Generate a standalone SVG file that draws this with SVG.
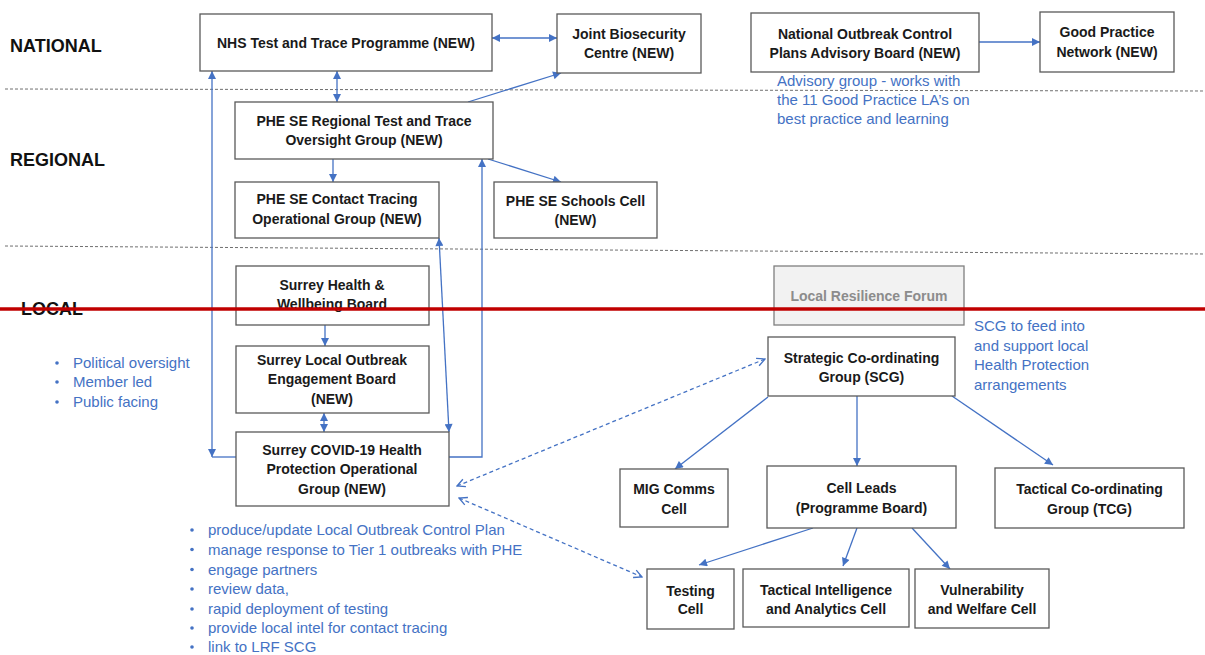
<svg xmlns="http://www.w3.org/2000/svg" width="1205" height="655" viewBox="0 0 1205 655">
<style>
.bx{fill:#ffffff;stroke:#595959;stroke-width:1.3}
.lrf{fill:#f2f2f2;stroke:#7f7f7f;stroke-width:1.3}
.t{font-family:"Liberation Sans",Arial,sans-serif;font-size:14px;font-weight:bold;fill:#1a1a1a;text-anchor:middle}
.tg{font-family:"Liberation Sans",Arial,sans-serif;font-size:14px;font-weight:bold;fill:#8c8c8c;text-anchor:middle}
.h{font-family:"Liberation Sans",Arial,sans-serif;font-size:18px;font-weight:bold;fill:#111111}
.b{font-family:"Liberation Sans",Arial,sans-serif;font-size:15px;fill:#4472C4}
.c{fill:none;stroke:#4472C4;stroke-width:1.3}
.d{fill:none;stroke:#4472C4;stroke-width:1.3;stroke-dasharray:4,3}
.sep{fill:none;stroke:#6f6f6f;stroke-width:1;stroke-dasharray:3,2}
</style>
<defs>
<marker id="a" viewBox="0 0 10 10" refX="10" refY="5" markerWidth="9" markerHeight="8" markerUnits="userSpaceOnUse" orient="auto-start-reverse"><path d="M0,0 L10,5 L0,10 z" fill="#4472C4"/></marker>
<marker id="o" viewBox="0 0 10 10" refX="9" refY="5" markerWidth="10" markerHeight="10" markerUnits="userSpaceOnUse" orient="auto-start-reverse"><path d="M1,1 L9,5 L1,9" fill="none" stroke="#4472C4" stroke-width="1.3"/></marker>
</defs>
<rect width="1205" height="655" fill="#ffffff"/>

<g id="separators">
<line class="sep" x1="5" y1="89" x2="1205" y2="91"/>
<line class="sep" x1="5" y1="246" x2="1205" y2="254"/>
</g>

<g id="levels">
<text class="h" x="10" y="51.5">NATIONAL</text>
<text class="h" x="10" y="165.5">REGIONAL</text>
<text class="h" x="21" y="315">LOCAL</text>
</g>

<g id="connectors">
<line class="c" x1="492" y1="38" x2="557" y2="38" marker-start="url(#a)" marker-end="url(#a)"/>
<line class="c" x1="337" y1="71" x2="337" y2="102" marker-start="url(#a)" marker-end="url(#a)"/>
<line class="c" x1="468" y1="102" x2="561" y2="73" marker-end="url(#a)"/>
<line class="c" x1="333" y1="159" x2="333" y2="182" marker-end="url(#a)"/>
<line class="c" x1="488" y1="159" x2="561" y2="182" marker-end="url(#a)"/>
<line class="c" x1="212" y1="457" x2="212" y2="71" marker-start="url(#a)" marker-end="url(#a)"/>
<line class="c" x1="212" y1="457" x2="236" y2="457"/>
<path class="c" d="M449,457 H482 V159" marker-end="url(#a)"/>
<line class="c" x1="439" y1="238" x2="449" y2="432" marker-start="url(#a)" marker-end="url(#a)"/>
<line class="c" x1="325" y1="325" x2="325" y2="346" marker-end="url(#a)"/>
<line class="c" x1="324" y1="413" x2="324" y2="432" marker-start="url(#a)" marker-end="url(#a)"/>
<line class="c" x1="979" y1="42" x2="1040" y2="42" marker-end="url(#a)"/>
<line class="c" x1="768" y1="397" x2="675" y2="469" marker-end="url(#a)"/>
<line class="c" x1="857" y1="396" x2="857" y2="466" marker-end="url(#a)"/>
<line class="c" x1="952" y1="396" x2="1053" y2="465" marker-end="url(#a)"/>
<line class="c" x1="813" y1="528" x2="699" y2="565" marker-end="url(#a)"/>
<line class="c" x1="857" y1="528" x2="843" y2="566" marker-end="url(#a)"/>
<line class="c" x1="912" y1="528" x2="950" y2="569" marker-end="url(#a)"/>
<line class="d" x1="457" y1="486" x2="765" y2="359" marker-start="url(#o)" marker-end="url(#o)"/>
<line class="d" x1="459" y1="498" x2="642" y2="577" marker-start="url(#o)" marker-end="url(#o)"/>
</g>

<g id="nhs"><rect class="bx" x="200" y="14" width="292" height="57"/><text class="t" x="346" y="48">NHS Test and Trace Programme (NEW)</text></g>
<g id="jbc"><rect class="bx" x="557" y="14" width="144" height="59"/><text class="t" x="629" y="39">Joint Biosecurity</text><text class="t" x="629" y="58">Centre (NEW)</text></g>
<g id="nocp"><rect class="bx" x="751" y="13" width="228" height="59"/><text class="t" x="865" y="38.5">National Outbreak Control</text><text class="t" x="865" y="57.5">Plans Advisory Board (NEW)</text></g>
<g id="gpn"><rect class="bx" x="1040" y="12" width="134" height="60"/><text class="t" x="1107" y="37">Good Practice</text><text class="t" x="1107" y="56.5">Network (NEW)</text></g>
<g id="advisory-note"><text class="b" x="777" y="86">Advisory group - works with</text><text class="b" x="777" y="105">the 11 Good Practice LA’s on</text><text class="b" x="777" y="124">best practice and learning</text></g>

<g id="regional"><rect class="bx" x="235" y="102" width="258" height="57"/><text class="t" x="364" y="125.7">PHE SE Regional Test and Trace</text><text class="t" x="364" y="145">Oversight Group (NEW)</text></g>
<g id="contact"><rect class="bx" x="235" y="182" width="204" height="56"/><text class="t" x="337" y="204">PHE SE Contact Tracing</text><text class="t" x="337" y="223.7">Operational Group (NEW)</text></g>
<g id="schools"><rect class="bx" x="494" y="182" width="163" height="56"/><text class="t" x="575.5" y="205.5">PHE SE Schools Cell</text><text class="t" x="575.5" y="224.5">(NEW)</text></g>

<g id="shwb"><rect class="bx" x="236" y="266" width="193" height="59"/><text class="t" x="332" y="290.3">Surrey Health &amp;</text><text class="t" x="332" y="309.3">Wellbeing Board</text></g>
<g id="sloeb"><rect class="bx" x="236" y="346" width="193" height="67"/><text class="t" x="332" y="365">Surrey Local Outbreak</text><text class="t" x="332" y="384.3">Engagement Board</text><text class="t" x="332" y="404">(NEW)</text></g>
<g id="covid"><rect class="bx" x="236" y="432" width="213" height="74"/><text class="t" x="342" y="455">Surrey COVID-19 Health</text><text class="t" x="342" y="474.3">Protection Operational</text><text class="t" x="342" y="493.7">Group (NEW)</text></g>

<g id="lrf"><rect class="lrf" x="774" y="266" width="190" height="59"/><text class="tg" x="869" y="301">Local Resilience Forum</text></g>
<g id="scg"><rect class="bx" x="768" y="337" width="187" height="59"/><text class="t" x="861.5" y="363">Strategic Co-ordinating</text><text class="t" x="861.5" y="382.3">Group (SCG)</text></g>
<g id="scg-note"><text class="b" x="974" y="331">SCG to feed into</text><text class="b" x="974" y="351">and support local</text><text class="b" x="974" y="370">Health Protection</text><text class="b" x="974" y="390">arrangements</text></g>
<g id="mig"><rect class="bx" x="620" y="469" width="108" height="58"/><text class="t" x="674" y="494.3">MIG Comms</text><text class="t" x="674" y="513.7">Cell</text></g>
<g id="cellleads"><rect class="bx" x="767" y="466" width="189" height="62"/><text class="t" x="861.5" y="492.7">Cell Leads</text><text class="t" x="861.5" y="512.7">(Programme Board)</text></g>
<g id="tcg"><rect class="bx" x="995" y="468" width="189" height="60"/><text class="t" x="1089.5" y="494.3">Tactical Co-ordinating</text><text class="t" x="1089.5" y="513.7">Group (TCG)</text></g>
<g id="testing"><rect class="bx" x="647" y="569" width="87" height="60"/><text class="t" x="690.5" y="596">Testing</text><text class="t" x="690.5" y="614.3">Cell</text></g>
<g id="tactical"><rect class="bx" x="743" y="569" width="166" height="58"/><text class="t" x="826" y="595">Tactical Intelligence</text><text class="t" x="826" y="614.3">and Analytics Cell</text></g>
<g id="vulnerability"><rect class="bx" x="915" y="569" width="134" height="59"/><text class="t" x="982" y="595">Vulnerability</text><text class="t" x="982" y="614.3">and Welfare Cell</text></g>

<g id="board-bullets">
<circle cx="57" cy="363" r="1.8" fill="#4472C4"/><text class="b" x="73" y="368">Political oversight</text>
<circle cx="57" cy="382" r="1.8" fill="#4472C4"/><text class="b" x="73" y="387">Member led</text>
<circle cx="57" cy="402" r="1.8" fill="#4472C4"/><text class="b" x="73" y="407">Public facing</text>
</g>
<g id="covid-bullets">
<circle cx="192" cy="530" r="1.8" fill="#4472C4"/><text class="b" x="208" y="535">produce/update Local Outbreak Control Plan</text>
<circle cx="192" cy="549.5" r="1.8" fill="#4472C4"/><text class="b" x="208" y="554.5">manage response to Tier 1 outbreaks with PHE</text>
<circle cx="192" cy="569.5" r="1.8" fill="#4472C4"/><text class="b" x="208" y="574.5">engage partners</text>
<circle cx="192" cy="589" r="1.8" fill="#4472C4"/><text class="b" x="208" y="594">review data,</text>
<circle cx="192" cy="609" r="1.8" fill="#4472C4"/><text class="b" x="208" y="614">rapid deployment of testing</text>
<circle cx="192" cy="628" r="1.8" fill="#4472C4"/><text class="b" x="208" y="633">provide local intel for contact tracing</text>
<circle cx="192" cy="647" r="1.8" fill="#4472C4"/><text class="b" x="208" y="652">link to LRF SCG</text>
</g>

<g id="red-line"><line x1="0" y1="309" x2="1205" y2="309" stroke="#C00000" stroke-width="3.5"/></g>
</svg>
